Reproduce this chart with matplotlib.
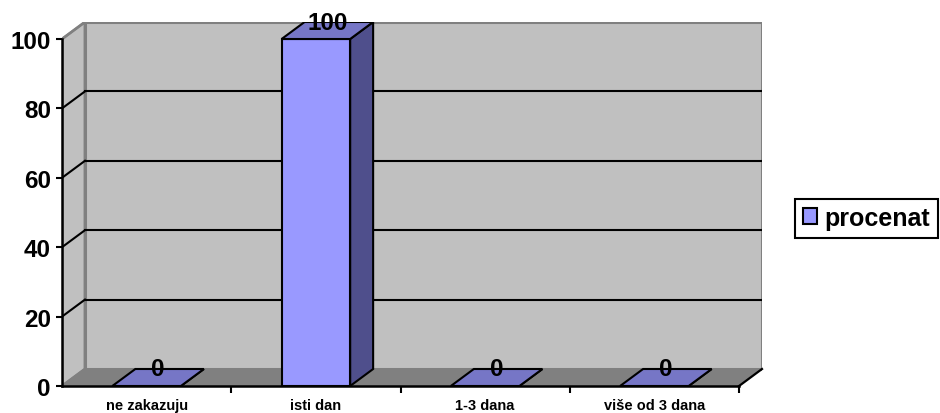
import matplotlib
matplotlib.use("Agg")
import matplotlib.pyplot as plt
from matplotlib.patches import Polygon, Rectangle, Patch

plt.rcParams['font.family'] = ['Liberation Sans', 'DejaVu Sans']

categories = ["ne zakazuju", "isti dan", "1-3 dana", "više od 3 dana"]
values = [0, 100, 0, 0]
series_name = "procenat"
y_ticks = [0, 20, 40, 60, 80, 100]

# oblique depth offsets (category units, value units)
DX = 0.1357
DY = 4.9
BAR_W = 0.405

WALL = "#C0C0C0"
FLOOR = "#808080"
EDGE = "#808080"
FRONT = "#9999FF"
TOP = "#7676C6"
SIDE = "#4F4F8C"

fig = plt.figure(figsize=(9.4, 4.14), dpi=100)
ax = fig.add_axes([62 / 940, 27 / 414, 700 / 940, 364 / 414])
n = len(categories)
x0, x1 = -0.5, n - 0.5
ax.set_xlim(x0, x1 + DX)
ax.set_ylim(0, 100 + DY)

# walls and floor
ax.add_patch(Rectangle((x0 + DX, DY), x1 - x0, 100, facecolor=WALL,
                       edgecolor=EDGE, lw=2.2, zorder=0))
ax.add_patch(Polygon([(x0, 0), (x0 + DX, DY), (x0 + DX, 100 + DY), (x0, 100)],
                     closed=True, facecolor=WALL, edgecolor=EDGE, lw=2.0, zorder=0.5))
ax.add_patch(Polygon([(x0, 0), (x1, 0), (x1 + DX, DY), (x0 + DX, DY)],
                     closed=True, facecolor=FLOOR, edgecolor="none", zorder=0.6))
ax.plot([x0, x0 + DX], [0, DY], color=EDGE, lw=1.5, zorder=0.7)
ax.plot([x1, x1 + DX], [0, DY], color="black", lw=1.6, zorder=1, clip_on=False)
ax.plot([x0, x1], [0, 0], color="black", lw=1.8, zorder=1, clip_on=False)

# gridlines on back and side walls
for v in y_ticks[1:-1]:
    ax.plot([x0 + DX, x1 + DX], [v + DY, v + DY], color="black", lw=1.5, zorder=1)
    ax.plot([x0, x0 + DX], [v, v + DY], color="black", lw=1.5, zorder=1)
ax.plot([x0, x0 + DX], [100, 100 + DY], color=EDGE, lw=1.5, zorder=1)

# bars
for i, v in enumerate(values):
    l, r = i - BAR_W / 2, i + BAR_W / 2
    ax.add_patch(Polygon([(r, 0), (r + DX, DY), (r + DX, v + DY), (r, v)], closed=True,
                         facecolor=SIDE, edgecolor="black", lw=1.5, zorder=3,
                         joinstyle="miter"))
    ax.add_patch(Rectangle((l, 0), BAR_W, v, facecolor=FRONT, edgecolor="black",
                           lw=1.5, zorder=3, joinstyle="miter"))
    ax.add_patch(Polygon([(l, v), (r, v), (r + DX, v + DY), (l + DX, v + DY)], closed=True,
                         facecolor=TOP, edgecolor="black", lw=1.5, zorder=3,
                         joinstyle="miter"))
    ax.text(i + DX / 2, v + DY, f"{v:g}", ha="center", va="center",
            fontsize=17.5, fontweight="bold", zorder=5, clip_on=False)

# axes and ticks
for s in ["top", "right", "bottom"]:
    ax.spines[s].set_visible(False)
ax.spines["left"].set_bounds(0, 100)
ax.spines["left"].set_linewidth(1.8)
ax.spines["left"].set_zorder(2)
ax.set_yticks(y_ticks)
ax.tick_params(axis="y", direction="out", length=4, width=1.5, pad=4,
               labelsize=17.5)
for t in ax.get_yticklabels():
    t.set_fontweight("bold")
ax.set_xticks(range(n))
ax.set_xticklabels(categories, fontsize=10.5, fontweight="bold")
ax.set_xticks([i + 0.5 for i in range(n)], minor=True)
ax.tick_params(axis="x", which="major", length=0, pad=9)
ax.tick_params(axis="x", which="minor", direction="out", length=5, width=1.5)

leg = fig.legend(handles=[Patch(facecolor=FRONT, edgecolor="black", lw=1.5, label=series_name)],
                 loc="center left", bbox_to_anchor=(795 / 940, 1 - 219 / 414),
                 prop={"weight": "bold", "size": 18},
                 handlelength=0.58, handleheight=0.58, handletextpad=0.3,
                 borderpad=0.3, borderaxespad=0, fancybox=False, framealpha=1)
leg.get_frame().set_edgecolor("black")
leg.get_frame().set_linewidth(1.5)

fig.savefig("out.png", dpi=100)
